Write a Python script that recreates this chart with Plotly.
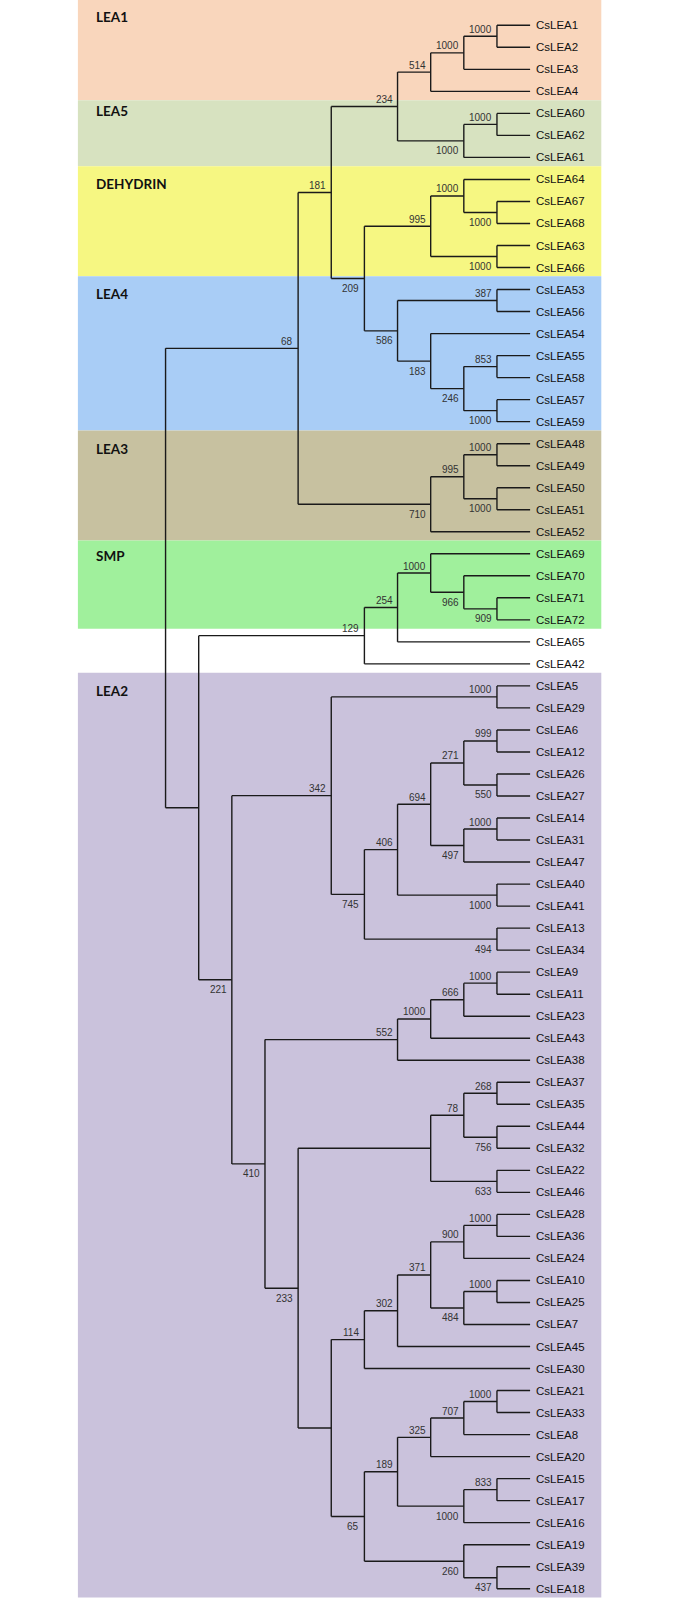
import plotly.graph_objects as go

# ---------------- data: tree topology (Newick) with bootstrap values ----------------
LEA1 = "(((CsLEA1,CsLEA2)1000,CsLEA3)1000,CsLEA4)514"
LEA5 = "((CsLEA60,CsLEA62)1000,CsLEA61)1000"
DEHYDRIN = "((CsLEA64,(CsLEA67,CsLEA68)1000)1000,(CsLEA63,CsLEA66)1000)995"
LEA4 = "((CsLEA53,CsLEA56)387,(CsLEA54,((CsLEA55,CsLEA58)853,(CsLEA57,CsLEA59)1000)246)183)586"
LEA3 = "(((CsLEA48,CsLEA49)1000,(CsLEA50,CsLEA51)1000)995,CsLEA52)710"
SMP = "(((CsLEA69,(CsLEA70,(CsLEA71,CsLEA72)909)966)1000,CsLEA65)254,CsLEA42)129"
LEA2_A = ("((CsLEA5,CsLEA29)1000,(((((CsLEA6,CsLEA12)999,(CsLEA26,CsLEA27)550)271,"
          "((CsLEA14,CsLEA31)1000,CsLEA47)497)694,(CsLEA40,CsLEA41)1000)406,(CsLEA13,CsLEA34)494)745)342")
LEA2_B = "((((CsLEA9,CsLEA11)1000,CsLEA23)666,CsLEA43)1000,CsLEA38)552"
LEA2_C = "(((CsLEA37,CsLEA35)268,(CsLEA44,CsLEA32)756)78,(CsLEA22,CsLEA46)633)"
LEA2_D = "(((((CsLEA28,CsLEA36)1000,CsLEA24)900,((CsLEA10,CsLEA25)1000,CsLEA7)484)371,CsLEA45)302,CsLEA30)114"
LEA2_E = ("(((((CsLEA21,CsLEA33)1000,CsLEA8)707,CsLEA20)325,((CsLEA15,CsLEA17)833,CsLEA16)1000)189,"
          "(CsLEA19,(CsLEA39,CsLEA18)437)260)65")

UPPER = f"((({LEA1},{LEA5})234,({DEHYDRIN},{LEA4})209)181,{LEA3})68"
LOWER = f"({LEA2_A},({LEA2_B},({LEA2_C},({LEA2_D},{LEA2_E}))233)410)221"
TREE = f"({UPPER},({SMP},{LOWER}))"

# groups: name, first leaf, last leaf, colour
GROUP_NAMES = ["LEA1", "LEA5", "DEHYDRIN", "LEA4", "LEA3", "SMP", "LEA2"]
GROUP_FIRST = ["CsLEA1", "CsLEA60", "CsLEA64", "CsLEA53", "CsLEA48", "CsLEA69", "CsLEA5"]
GROUP_LAST = ["CsLEA4", "CsLEA61", "CsLEA66", "CsLEA59", "CsLEA52", "CsLEA72", "CsLEA18"]
GROUP_COLORS = ["#F9D6BC", "#D7E2C0", "#F6F782", "#A9CDF6", "#C7C1A0", "#A0F09C", "#CAC2DC"]

# ---------------- parse ----------------
def parse(s):
    pos = 0

    def node():
        nonlocal pos
        if s[pos] == "(":
            pos += 1
            children = [node()]
            while s[pos] == ",":
                pos += 1
                children.append(node())
            assert s[pos] == ")"
            pos += 1
            start = pos
            while pos < len(s) and s[pos] not in ",()":
                pos += 1
            return {"label": s[start:pos], "children": children, "name": None}
        start = pos
        while pos < len(s) and s[pos] not in ",()":
            pos += 1
        return {"label": "", "children": [], "name": s[start:pos]}

    n = node()
    assert pos == len(s)
    return n


root = parse(TREE)
leaves = []


def layout(n):
    if not n["children"]:
        n["y"] = len(leaves)
        n["level"] = 0
        leaves.append(n)
        return
    for c in n["children"]:
        layout(c)
    n["level"] = max(c["level"] for c in n["children"]) + 1
    n["y"] = (n["children"][0]["y"] + n["children"][-1]["y"]) / 2


layout(root)
leaf_index = {l["name"]: l["y"] for l in leaves}

# ---------------- drawing ----------------
W, H = 688, 1600
TIP_PX, STEP_PX = 530.1, 33.14
Y0_PX, DY_PX = 25.3, 22.02
x_range = [TIP_PX / STEP_PX, (TIP_PX - W) / STEP_PX]
y_range = [(H - Y0_PX) / DY_PX, -Y0_PX / DY_PX]

xs, ys = [], []
annotations = []


def draw(n):
    if not n["children"]:
        annotations.append(dict(x=n["level"], y=n["y"], text=n["name"], showarrow=False,
                                xanchor="left", yanchor="middle", xshift=4, yshift=0,
                                font=dict(family="Liberation Sans, Arial", size=11.5, color="#111")))
        return
    ch = n["children"]
    xs.extend([n["level"], n["level"], None])
    ys.extend([ch[0]["y"], ch[-1]["y"], None])
    for i, c in enumerate(ch):
        xs.extend([n["level"], c["level"], None])
        ys.extend([c["y"], c["y"], None])
        if c["label"]:
            upper = i == 0
            annotations.append(dict(x=c["level"], y=c["y"], text=c["label"], showarrow=False,
                                    xanchor="right", yanchor="middle", xshift=-3,
                                    yshift=7 if upper else -10,
                                    font=dict(family="Liberation Sans, Arial", size=10, color="#333")))
        draw(c)


draw(root)

shapes = []
for gi, name in enumerate(GROUP_NAMES):
    top = leaf_index[GROUP_FIRST[gi]] - 0.6
    bot = leaf_index[GROUP_LAST[gi]] + 0.4
    if gi == 0:
        top = y_range[1]
    shapes.append(dict(type="rect", xref="paper", yref="y", x0=77.9 / W, x1=601.3 / W,
                       y0=top, y1=bot, fillcolor=GROUP_COLORS[gi], line=dict(width=0), layer="below"))
    off = min(0.82, (bot - top) * 0.17)
    annotations.append(dict(xref="paper", x=93.6 / W, y=top + off, text=f"<b>{name}</b>", showarrow=False,
                            xanchor="left", yanchor="middle",
                            font=dict(family="Lato, Carlito, Open Sans", size=13.5, color="#111")))

fig = go.Figure()
fig.add_trace(go.Scatter(x=xs, y=ys, mode="lines", line=dict(color="#1a1a1a", width=1.4),
                         hoverinfo="skip", showlegend=False))
fig.update_layout(width=W, height=H, margin=dict(l=0, r=0, t=0, b=0),
                  paper_bgcolor="white", plot_bgcolor="white",
                  xaxis=dict(range=x_range, visible=False, fixedrange=True),
                  yaxis=dict(range=y_range, visible=False, fixedrange=True),
                  shapes=shapes, annotations=annotations, showlegend=False)
fig.write_html("out.html", config={"displayModeBar": False},
               post_script="document.body.style.margin='0px';")
